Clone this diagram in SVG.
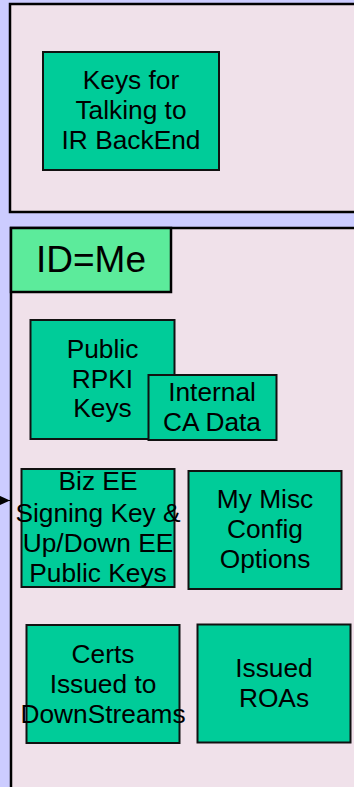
<svg xmlns="http://www.w3.org/2000/svg" width="354" height="787" viewBox="0 0 354 787">
  <style>
    .frame { fill: #f0e1ea; stroke: #000; stroke-width: 2.5; }
    .box { fill: #00cc99; stroke: #111; stroke-width: 2; }
    .tag { fill: #5ceb9b; stroke: #000; stroke-width: 2.5; }
    text { font-family: "Liberation Sans", Arial, sans-serif; font-size: 26.3px; fill: #000; text-anchor: middle; }
    .big { font-size: 37px; }
  </style>
  <defs>
    <marker id="arrowhead" markerWidth="11" markerHeight="10" refX="11" refY="5" orient="auto" markerUnits="userSpaceOnUse">
      <path d="M0,0 L11,5 L0,10 Z" fill="#000"/>
    </marker>
  </defs>
  <rect width="354" height="787" fill="#ccccff"/>

  <!-- outer container: back-end keys -->
  <g id="backend-frame">
    <rect class="frame" x="10" y="4" width="360" height="208"/>
  </g>
  <g id="keys-backend">
    <rect class="box" x="43" y="52" width="176" height="118"/>
    <text x="131" y="89">Keys for</text>
    <text x="131" y="119">Talking to</text>
    <text x="131" y="149">IR BackEnd</text>
  </g>

  <!-- outer container: identity -->
  <g id="me-frame">
    <rect class="frame" x="11" y="228" width="360" height="580"/>
  </g>
  <g id="id-me">
    <rect class="tag" x="11" y="228" width="160" height="64"/>
    <text class="big" x="91" y="272">ID=Me</text>
  </g>

  <g id="public-rpki-keys">
    <rect class="box" x="30.5" y="320" width="144" height="119"/>
    <text x="102.5" y="358">Public</text>
    <text x="102.5" y="388">RPKI</text>
    <text x="102.5" y="417">Keys</text>
  </g>
  <g id="internal-ca-data">
    <rect class="box" x="148.5" y="375" width="128" height="65"/>
    <text x="212" y="401">Internal</text>
    <text x="212" y="431">CA Data</text>
  </g>

  <g id="biz-ee-keys">
    <rect class="box" x="21.5" y="469" width="153" height="118"/>
    <text x="98" y="490">Biz EE</text>
    <text x="98" y="522">Signing Key &amp;</text>
    <text x="98" y="552">Up/Down EE</text>
    <text x="98" y="582">Public Keys</text>
  </g>
  <g id="misc-config">
    <rect class="box" x="188.5" y="471" width="153" height="118"/>
    <text x="265" y="508">My Misc</text>
    <text x="265" y="538">Config</text>
    <text x="265" y="568">Options</text>
  </g>

  <g id="certs-downstreams">
    <rect class="box" x="26.5" y="625" width="153" height="118"/>
    <text x="103" y="663">Certs</text>
    <text x="103" y="693">Issued to</text>
    <text x="103" y="723">DownStreams</text>
  </g>
  <g id="issued-roas">
    <rect class="box" x="197.5" y="624.5" width="153" height="118"/>
    <text x="274" y="677">Issued</text>
    <text x="274" y="707">ROAs</text>
  </g>

  <g id="connectors">
    <line x1="-10" y1="500.5" x2="10" y2="500.5" stroke="#000" stroke-width="1" marker-end="url(#arrowhead)"/>
  </g>
</svg>
